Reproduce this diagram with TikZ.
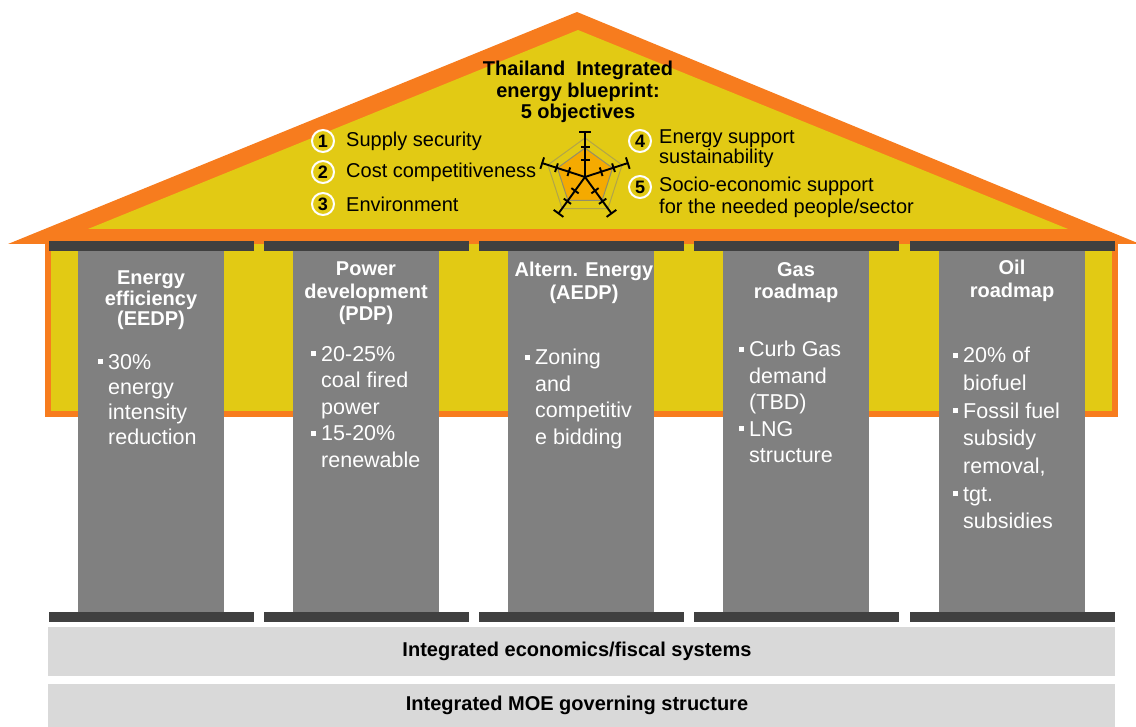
\documentclass[tikz,border=0pt]{standalone}
\definecolor{RoofOrange}{RGB}{247,124,30}
\definecolor{RoofYellow}{RGB}{226,202,20}
\definecolor{PillarGray}{RGB}{128,128,128}
\definecolor{CapDark}{RGB}{64,64,64}
\definecolor{BaseGray}{RGB}{217,217,217}
\definecolor{RadarFill}{RGB}{245,170,0}
\usepackage{fontspec}
\setmainfont{Liberation Sans}
\usetikzlibrary{positioning, calc}

\newcommand{\sqb}{\makebox[10pt][l]{\rule[5pt]{5pt}{5pt}}}
\newcommand{\ind}{\hspace*{10pt}}

\tikzset{
    pillar/.style={fill=PillarGray, minimum width=146pt, minimum height=361pt, inner sep=0pt, anchor=north},
    capbar/.style={fill=CapDark, minimum width=205pt, minimum height=10pt, inner sep=0pt},
    slab/.style={fill=BaseGray, minimum width=1067pt, inner sep=0pt, font=\bfseries\fontsize{20}{22}\selectfont},
    pillartitle/.style={text=white, font=\bfseries\fontsize{20}{22.5}\selectfont, align=center, anchor=north, inner sep=0pt},
    pillartext/.style={text=white, font=\fontsize{21.5}{26.5}\selectfont, align=left, anchor=north west, inner sep=0pt},
    objnum/.style={circle, draw=white, line width=2pt, fill=RoofYellow, inner sep=0pt, minimum size=22pt, font=\bfseries\fontsize{18}{18}\selectfont},
    objtext/.style={font=\fontsize{20}{21}\selectfont, anchor=west, align=left, inner sep=0pt},
    radaraxis/.style={line width=1.9pt, black}
}

\begin{document}
\begin{tikzpicture}[x=1pt, y=-1pt]
    \useasboundingbox (0,0) rectangle (1136,727);

    \draw[RoofOrange, line width=6pt, fill=RoofYellow] (48,240) rectangle (1115,414);
    \fill[RoofOrange] (577,12) -- (1140,244) -- (8,244) -- cycle;
    \fill[RoofYellow] (578,30) -- (1068,229) -- (88,229) -- cycle;

    \foreach \cx [count=\i] in {151,366,581,796,1012} {
        \node[pillar] (p\i) at (\cx,251) {};
        \node[capbar] (top\i) at (\cx,246) {};
        \node[capbar] (bot\i) at (\cx,617) {};
    }

    \node[slab, minimum height=49pt] (fiscal) at (581.5,651.5) {\hspace*{-9pt}Integrated economics/fiscal systems};
    \node[slab, minimum height=43pt] (moe) at (581.5,705.5) {\hspace*{-9pt}Integrated MOE governing structure};

    \node[font=\bfseries\fontsize{20}{21.5}\selectfont, align=center, inner sep=0pt] (blueprint) at (578,92)
        {Thailand\ \ Integrated\\energy blueprint:\\5 objectives};

    \coordinate (rc) at (585,177);
    \draw[gray!50!RoofYellow, line width=1pt] ($(rc)+(-90:39)$)
        \foreach \a in {-18,54,126,198} { -- ($(rc)+(\a:39)$) } -- cycle;
    \draw[gray!80!RoofYellow, line width=1pt, fill=RadarFill] ($(rc)+(-90:29)$)
        \foreach \a in {-18,54,126,198} { -- ($(rc)+(\a:29)$) } -- cycle;
    \foreach \a in {-90,-18,54,126,198} {
        \draw[radaraxis] (rc) -- ($(rc)+(\a:45)$);
        \draw[radaraxis] ($(rc)+(\a:45)+(\a+90:6)$) -- ($(rc)+(\a:45)+(\a-90:6)$);
        \draw[radaraxis] ($(rc)+(\a:30)+(\a+90:4.5)$) -- ($(rc)+(\a:30)+(\a-90:4.5)$);
        \draw[radaraxis] ($(rc)+(\a:17)+(\a+90:4.5)$) -- ($(rc)+(\a:17)+(\a-90:4.5)$);
    }

    \node[objnum] (n1) at (323,141) {1};
    \node[objnum] (n2) at (323,172) {2};
    \node[objnum] (n3) at (323,204) {3};
    \node[objnum] (n4) at (640,141) {4};
    \node[objnum] (n5) at (640,187) {5};
    \node[objtext] (o1) at (346,141) {Supply security};
    \node[objtext] (o2) at (346,172) {Cost competitiveness};
    \node[objtext] (o3) at (346,204) {Environment};
    \node[objtext, font=\fontsize{20}{20}\selectfont] (o4) at (659,149) {Energy support\\sustainability};
    \node[objtext, font=\fontsize{20}{22}\selectfont] (o5) at (659,197) {Socio-economic support\\for the needed people/sector};

    \node[pillartitle, font=\bfseries\fontsize{20}{20.5}\selectfont] (t1) at (151,271) {Energy\\efficiency\\(EEDP)};
    \node[pillartitle] (t2) at (366,262) {Power\\development\\(PDP)};
    \node[pillartitle] (t3) at (584,262) {Altern. Energy\\(AEDP)};
    \node[pillartitle] (t4) at (796,262) {Gas\\roadmap};
    \node[pillartitle] (t5) at (1012,260) {Oil\\roadmap};

    \node[pillartext, font=\fontsize{21.5}{25}\selectfont] (b1) at (98,354)
        {\sqb 30\%\\\ind energy\\\ind intensity\\\ind reduction};
    \node[pillartext] (b2) at (311,346)
        {\sqb 20-25\%\\\ind coal fired\\\ind power\\\sqb 15-20\%\\\ind renewable};
    \node[pillartext] (b3) at (525,349)
        {\sqb Zoning\\\ind and\\\ind competitiv\\\ind e bidding};
    \node[pillartext] (b4) at (739,341)
        {\sqb Curb Gas\\\ind demand\\\ind (TBD)\\\sqb LNG\\\ind structure};
    \node[pillartext, font=\fontsize{21.5}{27.7}\selectfont] (b5) at (953,347)
        {\sqb 20\% of\\\ind biofuel\\\sqb Fossil fuel\\\ind subsidy\\\ind removal,\\\sqb tgt.\\\ind subsidies};
\end{tikzpicture}
\end{document}
